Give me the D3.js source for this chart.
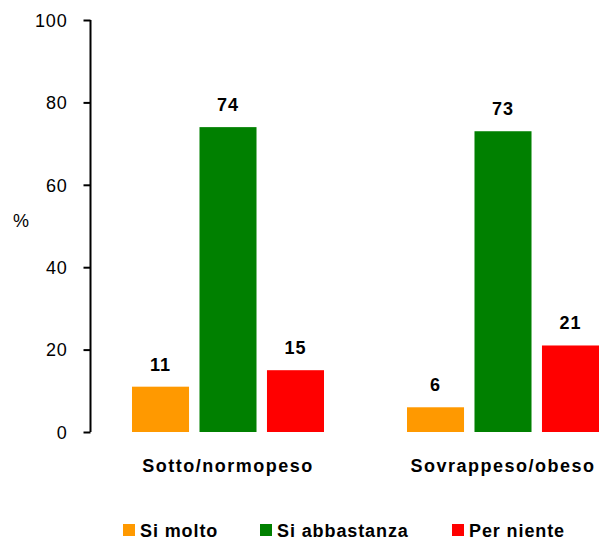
<!DOCTYPE html>
<html>
<head>
<meta charset="utf-8">
<script src="https://cdn.jsdelivr.net/npm/d3@7"></script>
<style>
  html, body { margin: 0; padding: 0; background: #fff; }
  svg { display: block; font-family: "Liberation Sans", Arial, sans-serif; }
</style>
</head>
<body>
<svg id="chart" width="606" height="540"></svg>
<script>
// Groups on the x axis
const categories = ["Sotto/normopeso", "Sovrappeso/obeso"];
// Answer series and their values (%)
const seriesNames = ["Si molto", "Si abbastanza", "Per niente"];
const siMolto = [11, 6];
const siAbbastanza = [74, 73];
const perNiente = [15, 21];
const seriesColors = ["#FF9900", "#008000", "#FF0000"];
const yTicks = [0, 20, 40, 60, 80, 100];

const seriesValues = [siMolto, siAbbastanza, perNiente];
const rows = categories.map((c, i) => ({
  category: c,
  values: seriesNames.map((s, j) => ({ series: s, value: seriesValues[j][i], color: seriesColors[j] }))
}));

const svg = d3.select("#chart");

const y = d3.scaleLinear().domain([0, 100]).range([432, 20]);
const x0 = d3.scaleBand().domain(categories).range([90.5, 640.5]).padding(0);
const x1 = d3.scaleBand().domain(seriesNames).range([41.5, 233.5]).paddingInner(0.155).paddingOuter(0);

// Bars
const groups = svg.selectAll("g.group").data(rows).join("g")
  .attr("class", "group")
  .attr("transform", d => `translate(${x0(d.category)},0)`);

groups.selectAll("rect").data(d => d.values).join("rect")
  .attr("x", d => x1(d.series))
  .attr("width", x1.bandwidth())
  .attr("y", d => y(d.value))
  .attr("height", d => y(0) - y(d.value))
  .attr("fill", d => d.color);

// Value labels
groups.selectAll("text.val").data(d => d.values).join("text")
  .attr("class", "val")
  .attr("x", d => x1(d.series) + x1.bandwidth() / 2)
  .attr("y", d => y(d.value) - 16)
  .attr("text-anchor", "middle")
  .attr("font-size", 18)
  .attr("font-weight", "bold")
  .attr("letter-spacing", 1)
  .text(d => d.value);

// Y axis
const yAxis = d3.axisLeft(y).tickValues(yTicks).tickSize(7).tickPadding(16);
const ya = svg.append("g").attr("transform", "translate(90.5,0)").call(yAxis);
ya.select(".domain")
  .attr("stroke", "#000").attr("stroke-width", 2)
  .attr("d", `M0,${y(100)}V${y(0)}`);
ya.selectAll(".tick line").attr("stroke", "#000").attr("stroke-width", 2);
ya.selectAll(".tick text")
  .attr("font-size", 18)
  .attr("letter-spacing", 0.8)
  .attr("font-family", "Liberation Sans, Arial, sans-serif")
  .attr("fill", "#000")
  .attr("dy", "0.35em");

// Y axis title
svg.append("text")
  .attr("x", 21).attr("y", 227)
  .attr("text-anchor", "middle")
  .attr("font-size", 18)
  .text("%");

// Category labels
svg.selectAll("text.cat").data(categories).join("text")
  .attr("class", "cat")
  .attr("x", d => x0(d) + 137.5)
  .attr("y", 472)
  .attr("text-anchor", "middle")
  .attr("font-size", 18)
  .attr("font-weight", "bold")
  .attr("letter-spacing", 1.5)
  .text(d => d);

// Legend
const legendX = [123, 260, 452];
const legend = svg.selectAll("g.legend").data(seriesNames).join("g")
  .attr("class", "legend")
  .attr("transform", (d, i) => `translate(${legendX[i]},0)`);
legend.append("rect")
  .attr("x", 0).attr("y", 524)
  .attr("width", 12).attr("height", 12)
  .attr("fill", (d, i) => seriesColors[i]);
legend.append("text")
  .attr("x", 17).attr("y", 537)
  .attr("font-size", 18)
  .attr("font-weight", "bold")
  .attr("letter-spacing", 0.9)
  .text(d => d);
</script>
</body>
</html>
